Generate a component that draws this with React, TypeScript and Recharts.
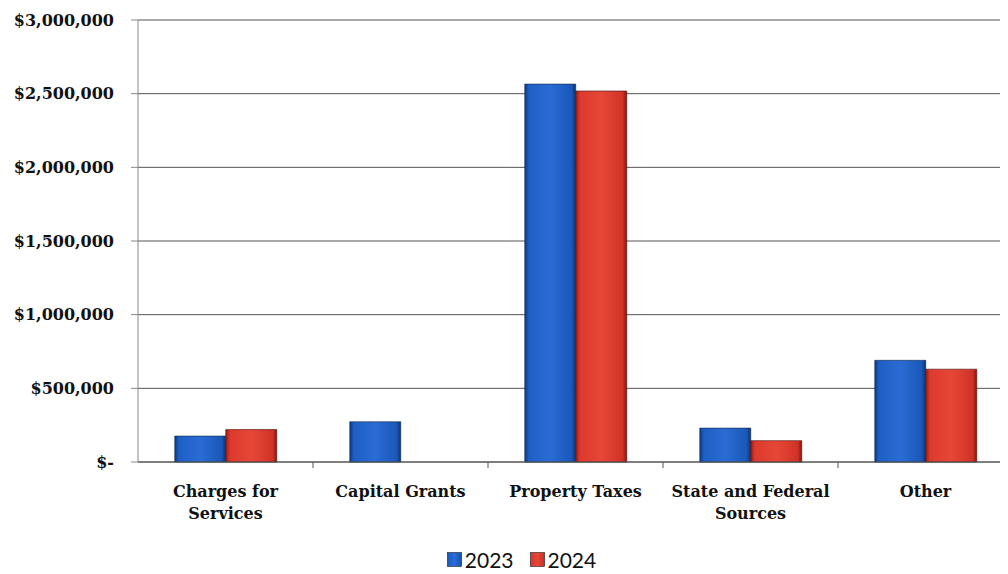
import { BarChart, Bar, XAxis, YAxis, CartesianGrid, Legend } from "recharts";

const categories = [
  "Charges for Services",
  "Capital Grants",
  "Property Taxes",
  "State and Federal Sources",
  "Other",
];
const values2023 = [176000, 273000, 2565000, 230000, 690000];
const values2024 = [220000, 0, 2518000, 145000, 630000];
const yTicks = [0, 500000, 1000000, 1500000, 2000000, 2500000, 3000000];

// category labels wrap the way the original did
const labelLines: Record<string, string[]> = {
  "Charges for Services": ["Charges for", "Services"],
  "State and Federal Sources": ["State and Federal", "Sources"],
};

const data = categories.map((name, i) => ({
  name,
  y2023: values2023[i],
  y2024: values2024[i],
}));

const serif = "'DejaVu Serif', serif";

function formatMoney(v: number) {
  if (v === 0) return "$-";
  return "$" + v.toLocaleString("en-US");
}

function CategoryTick(props: any) {
  const { x, y, payload, width, visibleTicksCount, index } = props;
  const band = width / visibleTicksCount;
  const lines = labelLines[payload.value] ?? [payload.value];
  return (
    <g>
      {index > 0 && (
        <line x1={x - band / 2} x2={x - band / 2} y1={y} y2={y + 6} stroke="#555" />
      )}
      <text
        x={x}
        y={y}
        textAnchor="middle"
        fontFamily={serif}
        fontWeight="bold"
        fontSize={16}
        fill="#111"
      >
        {lines.map((l, i) => (
          <tspan key={l} x={x} dy={i === 0 ? 35 : 22}>
            {l}
          </tspan>
        ))}
      </text>
    </g>
  );
}

function LegendBox() {
  const items = [
    { label: "2023", fill: "url(#blueBar)" },
    { label: "2024", fill: "url(#redBar)" },
  ];
  return (
    <div
      style={{
        display: "flex",
        justifyContent: "center",
        alignItems: "center",
        height: 30,
        paddingLeft: 38,
        fontFamily: "Lato, sans-serif",
        fontSize: 21,
        color: "#111",
      }}
    >
      {items.map((it) => (
        <span key={it.label} style={{ display: "flex", alignItems: "center", marginRight: 16 }}>
          <svg width={15} height={15} style={{ marginRight: 3 }}>
            <rect x={0.5} y={0.5} width={14} height={14} fill={it.fill} stroke="#222" strokeWidth={0.6} />
          </svg>
          {it.label}
        </span>
      ))}
    </div>
  );
}

export default function App() {
  return (
    <div style={{ width: 1000, height: 566, overflow: "hidden" }}>
      <BarChart
        width={1010}
        height={566}
        data={data}
        margin={{ top: 12, right: 5, left: 0, bottom: 0 }}
        barCategoryGap="21%"
        barGap={0}
      >
        <defs>
          <linearGradient id="blueBar" x1="0" y1="0" x2="1" y2="0">
            <stop offset="0%" stopColor="#0b3a86" />
            <stop offset="8%" stopColor="#1d5fc4" />
            <stop offset="50%" stopColor="#2a6cd4" />
            <stop offset="92%" stopColor="#1a58b8" />
            <stop offset="100%" stopColor="#0a3170" />
          </linearGradient>
          <linearGradient id="redBar" x1="0" y1="0" x2="1" y2="0">
            <stop offset="0%" stopColor="#9a1a12" />
            <stop offset="8%" stopColor="#dc3a2c" />
            <stop offset="50%" stopColor="#e64737" />
            <stop offset="92%" stopColor="#d03326" />
            <stop offset="100%" stopColor="#851510" />
          </linearGradient>
        </defs>
        <CartesianGrid vertical={false} stroke="#555" />
        <XAxis
          dataKey="name"
          height={82}
          tickSize={0}
          tickMargin={0}
          tickLine={false}
          stroke="#555"
          interval={0}
          tick={<CategoryTick />}
        />
        <YAxis
          width={130}
          domain={[0, 3000000]}
          ticks={yTicks}
          tickFormatter={formatMoney}
          tickSize={7}
          tickMargin={17}
          stroke="#888"
          tick={{ fontFamily: serif, fontWeight: "bold", fontSize: 16, fill: "#111" }}
        />
        <Legend verticalAlign="bottom" content={<LegendBox />} />
        <Bar dataKey="y2023" name="2023" fill="url(#blueBar)" stroke="#10264f" strokeWidth={0.6} isAnimationActive={false} />
        <Bar dataKey="y2024" name="2024" fill="url(#redBar)" stroke="#4a0d08" strokeWidth={0.6} isAnimationActive={false} />
      </BarChart>
    </div>
  );
}
